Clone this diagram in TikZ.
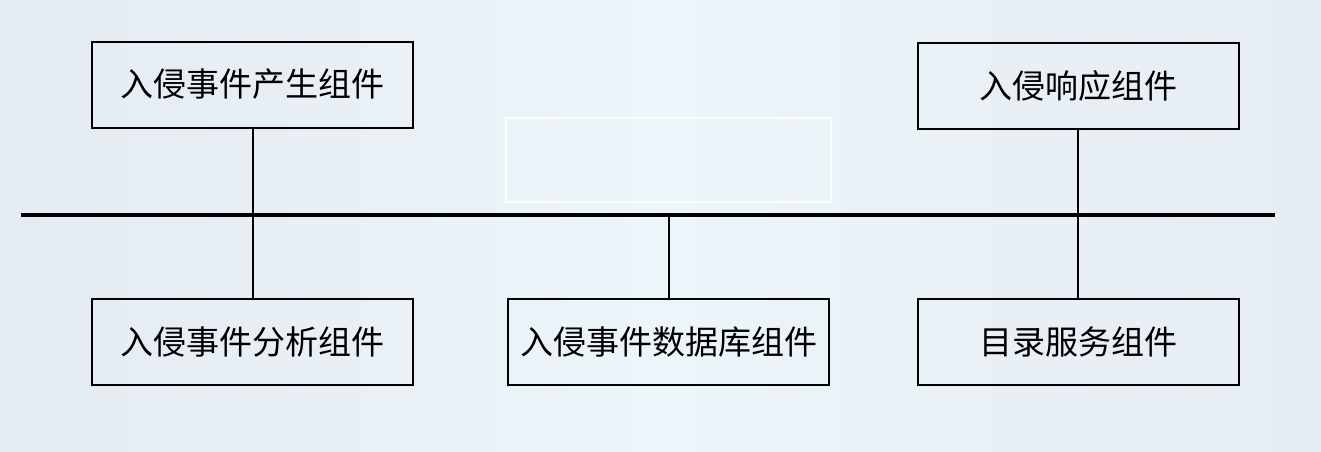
\documentclass[tikz,border=0pt]{standalone}
\usepackage{fontspec}
\newfontfamily\cjk{Noto Sans CJK SC}
\definecolor{bgleft}{RGB}{228,235,242}
\definecolor{bgmid}{RGB}{236,245,250}
\definecolor{bgright}{RGB}{229,236,243}
\tikzset{
  comp/.style = {draw, line width=2pt, minimum width=321pt, minimum height=86pt,
                 inner sep=0pt, font=\cjk\fontsize{33}{33}\selectfont},
  link/.style = {line width=2pt},
  bus/.style  = {line width=4.5pt}
}

\begin{document}
\begin{tikzpicture}[x=1pt, y=-1pt]
    \useasboundingbox (0,0) rectangle (1321,451);
    \shade[left color=bgleft, right color=bgright, middle color=bgmid] (0,0) rectangle (1321,451);
    % faint empty frame
    \draw[white, line width=1.2pt, opacity=0.8] (506,118) rectangle (831,202);

    \node[comp] (gen)  at (252.5,84.5) {入侵事件产生组件};
    \node[comp] (resp) at (1078,86)    {入侵响应组件};
    \node[comp] (ana)  at (252.5,342)  {入侵事件分析组件};
    \node[comp] (db)   at (668.5,342)  {入侵事件数据库组件};
    \node[comp] (dir)  at (1078,342)   {目录服务组件};

    \coordinate (busL) at (21,215);
    \coordinate (busR) at (1275,215);
    \draw[bus] (busL) -- (busR);

    \draw[link] (gen) -- (ana);
    \draw[link] (resp) -- (dir);
    \draw[link] (db) -- (db.north |- busL);
\end{tikzpicture}
\end{document}
